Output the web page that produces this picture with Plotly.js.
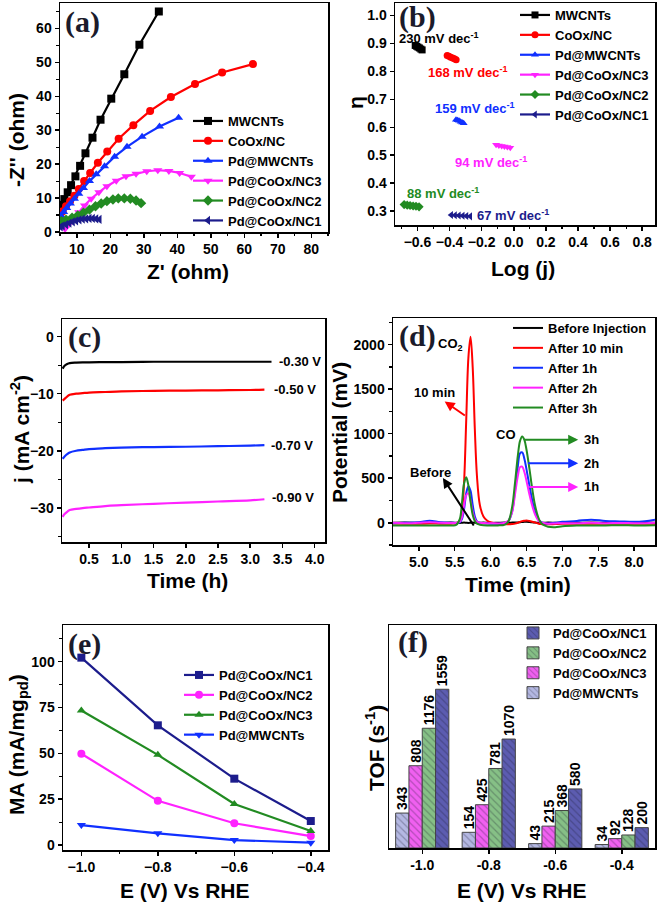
<!DOCTYPE html>
<html><head><meta charset="utf-8">
<script src="https://cdn.plot.ly/plotly-3.0.1.min.js"></script>
<style>html,body{margin:0;padding:0;background:#fff;overflow:hidden}#chart{width:700px;height:905px}</style>
</head><body><div id="chart"></div>
<script>
// ---------- (a) Nyquist ----------
const nyqMW_x = [34.5, 28.7, 24.2, 20.3, 17.1, 14.7, 12.6, 11.0, 9.6, 8.3, 7.3, 6.3, 5.5];
const nyqMW_y = [65.0, 55.2, 46.5, 39.3, 33.1, 27.8, 23.2, 19.5, 16.4, 13.8, 11.7, 9.7, 8.0];
const nyqCo_x = [62.6, 53.4, 45.3, 38.1, 31.9, 26.9, 22.5, 19.1, 16.3, 14.0, 12.2, 10.6, 9.3, 8.0, 6.8, 5.8, 5.1];
const nyqCo_y = [49.5, 47.0, 43.6, 39.8, 35.7, 31.5, 27.5, 23.7, 20.4, 17.4, 15.0, 12.7, 10.7, 9.1, 7.6, 6.1, 5.1];
const nyqPdMW_x = [40.4, 34.7, 29.5, 25.0, 21.3, 18.3, 15.8, 13.8, 12.0, 10.6, 9.3, 8.1, 7.0, 6.1, 5.3];
const nyqPdMW_y = [33.7, 31.1, 28.1, 25.1, 22.2, 19.4, 17.0, 15.0, 13.0, 11.3, 9.8, 8.4, 7.1, 5.9, 4.8];
const nyqNC3_x = [44.2, 40.7, 37.5, 34.2, 30.9, 27.7, 24.7, 21.8, 19.0, 16.6, 14.3, 12.3, 10.6, 9.0, 7.6, 6.5];
const nyqNC3_y = [16.3, 17.4, 18.0, 18.2, 17.9, 17.2, 16.4, 15.1, 13.5, 11.7, 9.8, 7.8, 5.8, 3.8, 2.2, 0.9];
const nyqNC2_x = [29.2, 27.7, 26.0, 24.2, 22.4, 20.8, 19.0, 17.3, 15.6, 13.8, 12.0, 10.3, 8.6, 6.8, 5.4];
const nyqNC2_y = [8.5, 9.3, 9.8, 9.9, 9.9, 9.6, 9.1, 8.4, 7.6, 6.6, 5.7, 4.9, 4.2, 3.6, 3.2];
const nyqNC1_x = [16.8, 15.8, 14.8, 13.8, 12.8, 11.8, 10.8, 9.8, 8.8, 7.8, 6.8, 5.8, 5.2];
const nyqNC1_y = [3.7, 3.9, 4.0, 4.0, 3.9, 3.8, 3.6, 3.3, 3.0, 2.6, 2.2, 1.8, 1.5];
const nyqNames = ['MWCNTs', 'CoOx/NC', 'Pd@MWCNTs', 'Pd@CoOx/NC3', 'Pd@CoOx/NC2', 'Pd@CoOx/NC1'];

// ---------- (b) Tafel ----------
const tafMW_x = [-0.614, -0.605, -0.597, -0.588, -0.579, -0.571];
const tafMW_y = [0.893, 0.890, 0.887, 0.884, 0.880, 0.877];
const tafCo_x = [-0.415, -0.404, -0.393, -0.381, -0.370, -0.359];
const tafCo_y = [0.857, 0.854, 0.851, 0.848, 0.845, 0.842];
const tafPdMW_x = [-0.360, -0.350, -0.341, -0.331, -0.322, -0.312];
const tafPdMW_y = [0.627, 0.625, 0.623, 0.620, 0.617, 0.614];
const tafNC3_x = [-0.110, -0.093, -0.075, -0.058, -0.040, -0.022];
const tafNC3_y = [0.537, 0.535, 0.533, 0.531, 0.529, 0.527];
const tafNC2_x = [-0.683, -0.664, -0.646, -0.627, -0.609, -0.590];
const tafNC2_y = [0.323, 0.321, 0.320, 0.318, 0.317, 0.315];
const tafNC1_x = [-0.390, -0.366, -0.342, -0.318, -0.295, -0.271];
const tafNC1_y = [0.286, 0.285, 0.284, 0.283, 0.282, 0.281];
const tafelSlopes = ['230', '168', '159', '94', '88', '67'];
const tafelLabelX = [-0.465, -0.284, -0.243, -0.140, -0.443, -0.006];
const tafelLabelY = [0.920, 0.798, 0.669, 0.476, 0.365, 0.286];

// ---------- (c) chronoamperometry ----------
const tC = [0.09, 0.12, 0.16, 0.2, 0.3, 0.4, 0.5, 0.75, 1.0, 1.5, 2.0, 2.5, 3.0, 3.22];
const tC_black = [0.09, 0.12, 0.16, 0.2, 0.3, 0.4, 0.5, 0.75, 1.0, 1.5, 2.0, 2.5, 3.0, 3.33];
const j030 = [-5.6, -5.1, -4.8, -4.65, -4.55, -4.5, -4.5, -4.45, -4.45, -4.4, -4.4, -4.4, -4.4, -4.4];
const j050 = [-11.2, -10.9, -10.5, -10.2, -10.0, -9.9, -9.8, -9.7, -9.6, -9.5, -9.45, -9.4, -9.35, -9.3];
const j070 = [-21.4, -21.0, -20.6, -20.3, -20.0, -19.85, -19.7, -19.55, -19.45, -19.35, -19.3, -19.2, -19.1, -19.0];
const j090 = [-31.6, -31.1, -30.7, -30.4, -30.2, -30.05, -29.95, -29.7, -29.55, -29.3, -29.1, -28.9, -28.7, -28.5];
const potLabels = ['-0.30 V', '-0.50 V', '-0.70 V', '-0.90 V'];
const potLabelX = [3.77, 3.70, 3.65, 3.67];
const potLabelY = [-4.4, -9.2, -19.1, -28.2];

// ---------- (d) GC ----------
const tGC = [4.64, 4.8, 5.0, 5.15, 5.3, 5.45, 5.52, 5.57, 5.6, 5.63, 5.66, 5.69, 5.72, 5.75, 5.78, 5.81, 5.85, 5.9, 5.95, 6.0, 6.1, 6.2, 6.25, 6.3, 6.34, 6.38, 6.41, 6.44, 6.47, 6.5, 6.54, 6.58, 6.62, 6.66, 6.7, 6.75, 6.8, 6.9, 7.0, 7.2, 7.4, 7.6, 7.8, 8.0, 8.15, 8.29];
const gcBefore = [0, 2, 0, -2, 0, 2, 0, -2, 0, 2, 0, -2, 0, 2, 0, -2, 0, 2, 0, -2, 0, 2, 0, 2, 3, 4, 6, 8, 10, 10, 8, 5, 2, 0, -2, 0, 2, 0, -2, 0, 2, 0, -2, 0, 2, 0];
const gc10min = [-8, -10, -12, -8, -10, -10, -5, 20, 120, 450, 1150, 1850, 2090, 1750, 1050, 520, 200, 70, 25, 5, -10, -15, -18, -15, -10, 0, 10, 18, 22, 25, 20, 12, 2, -8, -15, -18, -18, -15, -12, -10, -12, -10, -12, -10, -12, -10];
const gc1h = [-5, 0, 5, 22, 5, 0, -2, 5, 40, 150, 330, 410, 360, 200, 70, 15, 0, -5, -8, -10, -12, -5, 20, 130, 370, 640, 780, 790, 720, 600, 420, 250, 120, 45, 10, -5, -8, 0, 10, 20, 35, 20, 15, 10, 18, 35];
const gc2h = [0, -5, 0, 5, 0, -3, -2, 10, 60, 200, 310, 330, 250, 120, 40, 10, 0, -3, -5, -5, -8, 0, 25, 120, 320, 530, 625, 630, 570, 470, 320, 190, 90, 30, 5, -5, -10, -8, -5, -5, 0, -5, -3, -5, -5, 0];
const gc3h = [-30, -32, -30, -32, -30, -30, -25, 40, 220, 440, 510, 420, 240, 90, 20, -10, -22, -28, -30, -30, -30, -20, 20, 180, 450, 760, 920, 970, 930, 820, 610, 380, 190, 70, 0, -30, -45, -50, -40, -32, -30, -30, -28, -30, -30, -28];
const gcNames = ['Before Injection', 'After 10 min', 'After 1h', 'After 2h', 'After 3h'];

// ---------- (e) mass activity ----------
const potE = [-1.0, -0.8, -0.6, -0.4];
const maNC1 = [102.2, 65.3, 36.2, 13.1];
const maNC2 = [49.8, 24.1, 11.9, 4.9];
const maNC3 = [73.4, 49.2, 22.4, 7.7];
const maMW = [10.9, 6.4, 2.7, 1.3];
const maNames = ['Pd@CoOx/NC1', 'Pd@CoOx/NC2', 'Pd@CoOx/NC3', 'Pd@MWCNTs'];

// ---------- (f) TOF ----------
const tofCats = ['-1.0', '-0.8', '-0.6', '-0.4'];
const tofNC1 = [1559, 1070, 580, 200];
const tofNC2 = [1176, 781, 368, 128];
const tofNC3 = [808, 425, 215, 92];
const tofMW = [343, 154, 43, 34];

// ================= drawing =================
// layout is a little wider than the 661 px window so legends near the right edge are not pushed inward
const W = 700, H = 905;
const FX = p => p / W, FY = p => 1 - p / H;
const FONT = 'Liberation Sans, Arial, sans-serif';
const SERIF = 'Liberation Serif, Times New Roman, serif';
const tickF = {family: FONT, size: 14, weight: 'bold', color: '#000'};
const legF = {family: FONT, size: 13, weight: 'bold', color: '#000'};

const C = {black: '#000000', red: '#ff0000', blue: '#1030ff', mag: '#ff22ff', green: '#228b22', navy: '#1c1c8c'};

function axis(extra) {
  return Object.assign({
    showline: true, linecolor: '#000', linewidth: 1.5, mirror: true,
    ticks: 'outside', ticklen: 4, tickwidth: 1.5, tickcolor: '#000',
    showgrid: false, zeroline: false, tickfont: tickF, fixedrange: true
  }, extra);
}
function minor(d) { return {ticks: 'outside', ticklen: 2.5, tickwidth: 1.2, tickcolor: '#000', dtick: d, showgrid: false}; }

const traces = [];
// (a)
const nyqX = [nyqMW_x, nyqCo_x, nyqPdMW_x, nyqNC3_x, nyqNC2_x, nyqNC1_x];
const nyqY = [nyqMW_y, nyqCo_y, nyqPdMW_y, nyqNC3_y, nyqNC2_y, nyqNC1_y];
const serCol = [C.black, C.red, C.blue, C.mag, C.green, C.navy];
const serSym = ['square', 'circle', 'triangle-up', 'triangle-down', 'diamond', 'triangle-left'];
for (let i = 0; i < 6; i++) {
  traces.push({x: nyqX[i], y: nyqY[i], xaxis: 'x', yaxis: 'y', type: 'scatter', mode: 'lines+markers',
    name: nyqNames[i], legend: 'legend',
    line: {color: serCol[i], width: 2.2}, marker: {color: serCol[i], symbol: serSym[i], size: 8}});
}
// (b)
const tafX = [tafMW_x, tafCo_x, tafPdMW_x, tafNC3_x, tafNC2_x, tafNC1_x];
const tafY = [tafMW_y, tafCo_y, tafPdMW_y, tafNC3_y, tafNC2_y, tafNC1_y];
for (let i = 0; i < 6; i++) {
  traces.push({x: tafX[i], y: tafY[i], xaxis: 'x2', yaxis: 'y2', type: 'scatter', mode: 'lines+markers',
    name: nyqNames[i], legend: 'legend2',
    line: {color: serCol[i], width: 2.2}, marker: {color: serCol[i], symbol: serSym[i], size: 7}});
}
// (c)
const jSets = [j030, j050, j070, j090];
const jT = [tC_black, tC, tC, tC];
const jCol = [C.black, C.red, C.blue, C.mag];
for (let i = 0; i < 4; i++) {
  traces.push({x: jT[i], y: jSets[i], xaxis: 'x3', yaxis: 'y3', type: 'scatter', mode: 'lines',
    line: {color: jCol[i], width: 2.2, shape: 'spline'}, showlegend: false});
}
// (d)
const gcSets = [gcBefore, gc10min, gc1h, gc2h, gc3h];
const gcCol = [C.black, C.red, C.blue, C.mag, C.green];
for (let i = 0; i < 5; i++) {
  traces.push({x: tGC, y: gcSets[i], xaxis: 'x4', yaxis: 'y4', type: 'scatter', mode: 'lines',
    name: gcNames[i], legend: 'legend3', line: {color: gcCol[i], width: 2, shape: 'spline'}});
}
// (e)
const maSets = [maNC1, maNC2, maNC3, maMW];
const maCol = [C.navy, C.mag, C.green, C.blue];
const maSym = ['square', 'circle', 'triangle-up', 'triangle-down'];
for (let i = 0; i < 4; i++) {
  traces.push({x: potE, y: maSets[i], xaxis: 'x5', yaxis: 'y5', type: 'scatter', mode: 'lines+markers',
    name: maNames[i], legend: 'legend4',
    line: {color: maCol[i], width: 2.2}, marker: {color: maCol[i], symbol: maSym[i], size: 8}});
}
// (f)
const tofSets = [tofMW, tofNC3, tofNC2, tofNC1];
const tofNames = ['Pd@MWCNTs', 'Pd@CoOx/NC3', 'Pd@CoOx/NC2', 'Pd@CoOx/NC1'];
const tofCol = ['#b4b8e2', '#f060f0', '#86c086', '#5c5cb0'];
for (let i = 0; i < 4; i++) {
  traces.push({x: tofCats, y: tofSets[i], xaxis: 'x6', yaxis: 'y6', type: 'bar', name: tofNames[i],
    legend: 'legend5', text: tofSets[i].map(String), textposition: 'outside', textangle: -90,
    constraintext: 'none', cliponaxis: false,
    textfont: {family: FONT, size: 14, weight: 'bold', color: '#000'},
    marker: {color: tofCol[i], line: {color: '#444', width: 1},
      pattern: {shape: '\\', fgcolor: 'rgba(20,20,40,0.55)', size: 5, solidity: 0.25, fillmode: 'overlay'}}});
}

const ann = [];
function txt(x, y, text, opts) {
  ann.push(Object.assign({x: x, y: y, text: text, showarrow: false, xanchor: 'center', yanchor: 'middle',
    font: {family: FONT, size: 13, weight: 'bold', color: '#000'}}, opts));
}
// panel labels
const panelLab = [['(a)', 82, 22], ['(b)', 417, 17], ['(c)', 84, 337], ['(d)', 417, 336], ['(e)', 84, 644], ['(f)', 413, 642]];
panelLab.forEach(p => txt(FX(p[1]), FY(p[2]), p[0], {xref: 'paper', yref: 'paper',
  font: {family: SERIF, size: 30, weight: 'bold', color: '#1b1b2b'}}));
// axis titles
const tF = {family: FONT, size: 21, weight: 'bold', color: '#000'};
const titles = [
  ["Z' (ohm)", 188, 272, 0], ["-Z'' (ohm)", 16, 140, -90],
  ['Log (j)', 523, 268, 0], ['η', 355, 103, -90],
  ['Time (h)', 187, 580, 0], ['j (mA cm<sup>-2</sup>)', 20, 430, -90],
  ['Time (min)', 518, 584, 0], ['Potential (mV)', 340, 433, -90],
  ['E (V) Vs RHE', 185, 890, 0], ['MA (mA/mg<sub>pd</sub>)', 18, 745, -90],
  ['E (V) Vs RHE', 522, 890, 0], ['TOF (s<sup>-1</sup>)', 375, 748, -90]
];
titles.forEach(t => txt(FX(t[1]), FY(t[2]), t[0], {xref: 'paper', yref: 'paper', textangle: t[3], font: tF}));
// (b) slopes
for (let i = 0; i < 6; i++) {
  txt(tafelLabelX[i], tafelLabelY[i], tafelSlopes[i] + ' mV dec<sup>-1</sup>',
    {xref: 'x2', yref: 'y2', font: {family: FONT, size: 13, weight: 'bold', color: serCol[i]}});
}
// (c) potentials
for (let i = 0; i < 4; i++) txt(potLabelX[i], potLabelY[i], potLabels[i], {xref: 'x3', yref: 'y3'});
// (d) labels and arrows
txt(5.44, 2000, 'CO<sub>2</sub>', {xref: 'x4', yref: 'y4'});
txt(5.22, 1460, '10 min', {xref: 'x4', yref: 'y4'});
txt(5.16, 563, 'Before', {xref: 'x4', yref: 'y4'});
txt(6.21, 990, 'CO', {xref: 'x4', yref: 'y4'});
txt(7.41, 931, '3h', {xref: 'x4', yref: 'y4'});
txt(7.41, 669, '2h', {xref: 'x4', yref: 'y4'});
txt(7.41, 402, '1h', {xref: 'x4', yref: 'y4'});
function arrow(x, y, axv, ayv, col) {
  ann.push({x: x, y: y, ax: axv, ay: ayv, xref: 'x4', yref: 'y4', axref: 'x4', ayref: 'y4', text: '',
    showarrow: true, arrowhead: 2, arrowsize: 1, arrowwidth: 2, arrowcolor: col});
}
arrow(5.36, 1362, 5.662, 1193, C.red);
arrow(5.335, 503, 5.778, -48, C.black);
arrow(7.22, 931, 6.444, 931, C.green);
arrow(7.22, 669, 6.50, 669, C.blue);
arrow(7.22, 402, 6.518, 402, C.mag);

function legend(px, py, extra) {
  return Object.assign({x: FX(px), y: FY(py), xanchor: 'left', yanchor: 'top', bgcolor: 'rgba(0,0,0,0)',
    borderwidth: 0, font: legF, tracegroupgap: 0}, extra || {});
}

const layout = {
  width: W, height: H, margin: {l: 0, r: 0, t: 0, b: 0, autoexpand: false},
  paper_bgcolor: '#fff', plot_bgcolor: '#fff', hovermode: false,
  barmode: 'group', bargap: 0.2, bargroupgap: 0,
  xaxis: axis({domain: [FX(60), FX(328)], range: [5, 85], dtick: 10, tick0: 0, anchor: 'y', minor: minor(5)}),
  yaxis: axis({domain: [FY(232), FY(3)], range: [0, 67.5], dtick: 10, anchor: 'x', minor: minor(5)}),
  xaxis2: axis({domain: [FX(395), FX(655)], range: [-0.74, 0.88], dtick: 0.2, tick0: 0, tickformat: '.1f', anchor: 'y2', minor: minor(0.1)}),
  yaxis2: axis({domain: [FY(225), FY(3)], range: [0.25, 1.045], dtick: 0.1, tick0: 0, tickformat: '.1f', anchor: 'x2'}),
  xaxis3: axis({domain: [FX(62), FX(325)], range: [0.08, 4.16], dtick: 0.5, tick0: 0, tickformat: '.1f', anchor: 'y3'}),
  yaxis3: axis({domain: [FY(542), FY(319)], range: [-36, 3.1], dtick: 10, anchor: 'x3', minor: minor(5)}),
  xaxis4: axis({domain: [FX(393), FX(655)], range: [4.64, 8.29], dtick: 0.5, tick0: 0, tickformat: '.1f', anchor: 'y4'}),
  yaxis4: axis({domain: [FY(545), FY(318)], range: [-250, 2300], dtick: 500, anchor: 'x4', minor: minor(250)}),
  xaxis5: axis({domain: [FX(63), FX(328)], range: [-1.048, -0.355], dtick: 0.2, tick0: 0, tickformat: '.1f', anchor: 'y5', minor: minor(0.1)}),
  yaxis5: axis({domain: [FY(850), FY(625)], range: [-2.7, 120], dtick: 25, anchor: 'x5', minor: minor(12.5)}),
  xaxis6: axis({domain: [FX(389), FX(655)], type: 'category', anchor: 'y6'}),
  yaxis6: axis({domain: [FY(848), FY(625)], range: [0, 2190], showticklabels: false, ticks: '', anchor: 'x6'}),
  legend: legend(188, 106),
  legend2: legend(515, 0),
  legend3: legend(508, 313),
  legend4: legend(179, 660),
  legend5: legend(513, 618, {traceorder: 'reversed'}),
  annotations: ann
};

Plotly.newPlot('chart', traces, layout, {staticPlot: true, displayModeBar: false});
</script>
</body></html>
